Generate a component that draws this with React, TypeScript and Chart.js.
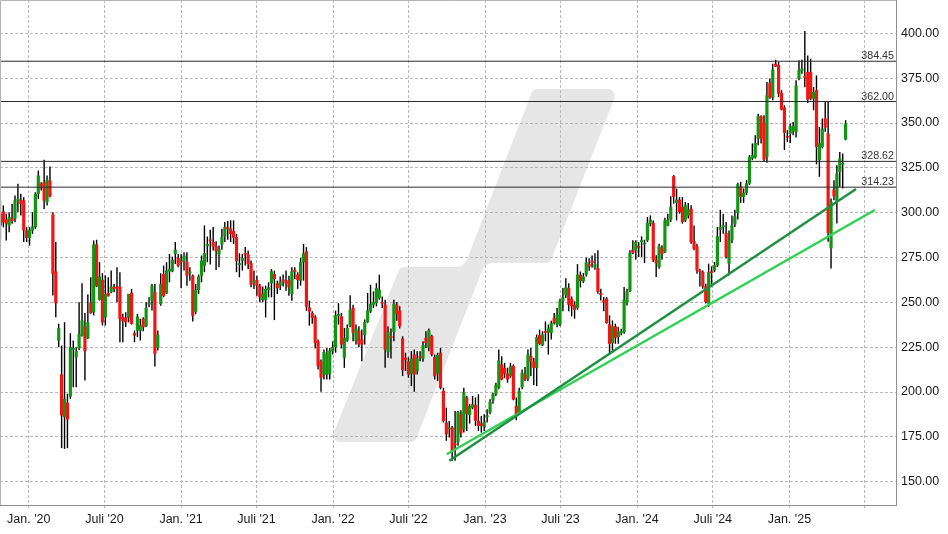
import React, { useEffect, useRef } from 'react';
import { Chart, registerables } from 'chart.js';

Chart.register(...registerables);

// ---- weekly candles (first candle week, then one per week) ----
const FIRST_WEEK = '2019-10-25';

const OPEN = [
  292.9, 300.7, 296.2, 292.9, 296.9, 296.6, 306.8, 307.2, 306.8, 290.1,
  286.0, 290.1, 291.9, 310.5, 316.1, 317.0, 305.9, 317.9, 299.0, 267.2,
  228.7, 209.8, 186.0, 194.0, 197.5, 223.6, 219.4, 224.4, 231.5, 236.5,
  230.0, 249.9, 244.5, 282.3, 251.4, 262.6, 241.7, 255.3, 255.7, 258.5,
  258.5, 258.8, 241.7, 241.4, 241.4, 255.3, 232.8, 234.3, 234.3, 240.8,
  236.7, 248.8, 251.0, 255.7, 224.6, 249.0, 265.8, 255.0, 267.3, 267.3,
  277.0, 274.8, 273.3, 272.7, 272.7, 266.2, 264.9, 244.8, 256.9, 264.9,
  270.5, 281.3, 285.0, 283.6, 281.3, 276.7, 282.3, 286.7, 292.0, 291.0,
  289.7, 286.4, 270.9, 273.3, 277.4, 276.7, 271.8, 261.2, 262.5, 259.3,
  251.3, 251.3, 256.9, 260.6, 265.8, 260.6, 259.3, 262.7, 261.7, 262.5,
  254.7, 268.1, 265.5, 262.1, 272.4, 278.4, 247.2, 244.1, 241.7, 228.3,
  217.2, 209.8, 209.5, 210.2, 222.8, 225.0, 242.4, 242.2, 219.1, 228.7,
  236.7, 246.9, 228.3, 233.9, 229.3, 231.7, 239.1, 245.0, 248.7, 249.6,
  252.4, 250.0, 248.7, 222.2, 231.1, 233.5, 248.7, 245.4, 229.8, 219.1,
  217.2, 210.2, 220.9, 211.7, 220.0, 218.7, 230.2, 225.0, 231.1, 219.4,
  210.2, 221.9, 200.6, 183.0, 179.3, 180.2, 171.3, 171.9, 187.9, 179.3,
  196.9, 187.2, 191.3, 192.8, 183.9, 182.4, 180.6, 186.1, 188.5, 195.4,
  198.7, 202.4, 215.4, 213.5, 210.2, 208.9, 214.5, 192.2, 188.0, 202.8,
  209.8, 207.6, 220.0, 216.9, 213.5, 231.7, 226.1, 233.9, 233.0, 233.0,
  241.3, 237.6, 237.6, 250.9, 253.9, 258.0, 252.0, 248.7, 246.9, 265.4,
  261.7, 265.4, 271.3, 273.1, 269.4, 269.1, 255.2, 251.0, 252.1, 237.7,
  227.3, 236.6, 230.7, 232.9, 233.5, 249.6, 256.3, 279.4, 279.0, 281.2,
  283.6, 282.3, 284.6, 293.9, 294.2, 273.4, 269.7, 280.5, 278.0, 292.9,
  296.1, 320.3, 305.4, 307.2, 303.2, 295.7, 298.5, 302.2, 284.2, 281.2,
  267.8, 266.9, 258.9, 249.3, 267.3, 267.8, 270.6, 290.5, 292.0, 288.7,
  271.6, 284.6, 293.5, 299.9, 314.4, 308.9, 311.1, 316.3, 330.2, 330.8,
  341.3, 353.8, 349.7, 331.1, 372.3, 364.2, 383.1, 382.2, 366.8, 358.6,
  342.6, 344.1, 345.4, 345.0, 374.8, 379.0, 376.0, 378.5, 378.5, 363.6,
  368.3, 329.3, 336.7, 352.5, 344.1, 280.1, 312.9, 306.1, 322.8, 326.9, 340.8,
];

const HIGH = [
  306.8, 304.0, 299.4, 300.3, 304.9, 309.6, 316.1, 310.5, 308.6, 291.9,
  291.9, 300.3, 311.4, 323.5, 317.0, 329.5, 320.7, 325.7, 300.3, 283.6,
  238.0, 225.9, 238.9, 199.0, 232.8, 228.7, 225.0, 250.1, 260.7, 244.0,
  254.4, 264.0, 284.5, 284.9, 272.4, 266.3, 265.0, 264.0, 267.8, 260.3,
  269.6, 266.8, 243.6, 244.5, 254.7, 257.5, 234.3, 243.6, 240.8, 241.7,
  250.1, 252.9, 260.3, 260.3, 234.3, 266.2, 270.5, 272.4, 277.0, 275.5,
  283.6, 277.0, 277.0, 278.0, 278.0, 269.6, 265.5, 260.3, 265.5, 276.1,
  292.9, 286.7, 290.5, 292.0, 284.1, 281.7, 291.0, 294.8, 295.3, 295.7,
  295.7, 288.2, 277.4, 277.0, 280.8, 278.9, 273.3, 267.7, 264.9, 260.3,
  258.8, 259.3, 261.2, 268.6, 267.7, 262.1, 264.4, 265.5, 267.7, 264.9,
  269.6, 269.6, 266.8, 274.8, 282.6, 280.8, 251.0, 245.0, 242.8, 229.3,
  218.1, 223.7, 224.5, 224.6, 228.3, 245.4, 249.6, 244.1, 235.7, 237.6,
  253.9, 248.7, 237.6, 236.7, 234.8, 240.4, 255.2, 259.8, 256.1, 260.7,
  265.4, 253.3, 251.5, 236.7, 235.4, 251.5, 250.2, 247.8, 231.1, 221.9,
  219.4, 222.8, 223.7, 222.8, 222.8, 228.3, 233.9, 235.4, 232.0, 220.9,
  221.9, 224.6, 202.4, 191.3, 183.9, 181.1, 189.4, 189.4, 189.8, 202.4,
  197.8, 193.2, 197.8, 196.9, 198.7, 186.7, 187.6, 190.4, 195.9, 199.6,
  205.2, 223.7, 220.0, 216.3, 213.5, 216.3, 215.4, 196.9, 202.4, 212.6,
  213.9, 223.7, 224.6, 219.1, 232.0, 234.8, 233.9, 239.4, 237.6, 239.8,
  244.1, 246.9, 252.0, 258.0, 263.5, 260.7, 253.3, 250.6, 271.3, 267.2,
  266.3, 275.0, 274.6, 276.1, 277.4, 279.0, 257.6, 253.0, 253.0, 242.7,
  239.9, 238.1, 236.2, 235.3, 258.5, 257.6, 279.0, 284.6, 284.6, 283.6,
  286.8, 284.9, 297.6, 298.5, 295.7, 276.2, 282.7, 281.8, 297.2, 299.4,
  309.1, 321.0, 313.4, 308.7, 308.7, 305.9, 305.4, 304.1, 292.9, 282.7,
  268.8, 267.8, 260.4, 271.6, 270.1, 272.5, 292.0, 301.7, 299.4, 294.8,
  290.1, 298.5, 301.7, 316.7, 317.2, 313.5, 318.2, 332.1, 338.6, 343.2,
  355.2, 354.3, 354.3, 372.9, 374.8, 383.1, 385.3, 384.0, 368.3, 359.9,
  346.0, 349.7, 350.6, 373.8, 385.0, 385.3, 401.3, 387.7, 385.9, 370.1,
  376.6, 347.8, 352.5, 362.3, 361.8, 307.9, 318.1, 326.5, 333.9, 333.0, 351.6,
];

const LOW = [
  285.4, 291.9, 284.5, 289.1, 293.8, 294.7, 300.3, 298.4, 283.6, 283.6,
  281.7, 288.2, 291.0, 307.7, 312.4, 302.1, 304.0, 308.6, 253.8, 241.7,
  225.0, 168.7, 168.3, 168.7, 196.2, 202.7, 202.7, 223.5, 231.0, 206.4,
  229.6, 243.6, 242.7, 258.5, 251.0, 237.1, 237.1, 253.3, 255.1, 255.7,
  250.1, 227.8, 227.8, 236.2, 238.9, 237.6, 227.8, 230.6, 228.7, 233.9,
  236.2, 247.3, 245.4, 214.2, 223.1, 248.1, 252.8, 254.7, 261.2, 266.8,
  271.4, 269.6, 257.8, 267.7, 259.3, 262.1, 239.3, 243.5, 254.7, 261.2,
  266.8, 272.4, 271.1, 278.9, 268.1, 269.6, 279.3, 283.6, 284.9, 283.6,
  282.6, 266.8, 264.0, 267.7, 270.5, 268.6, 258.4, 257.5, 253.7, 250.0,
  250.0, 241.6, 252.8, 252.8, 240.1, 254.7, 256.9, 258.8, 256.5, 253.7,
  250.9, 263.0, 257.5, 259.3, 262.1, 245.3, 237.0, 238.0, 224.3, 212.6,
  200.2, 207.0, 207.0, 207.0, 220.9, 221.9, 237.6, 224.3, 213.5, 228.0,
  236.1, 228.3, 226.5, 225.0, 217.2, 226.5, 238.5, 244.1, 246.9, 247.8,
  251.5, 246.9, 213.5, 219.1, 218.7, 228.3, 239.8, 235.4, 208.9, 211.7,
  208.0, 203.3, 200.2, 209.8, 217.2, 216.9, 224.6, 222.8, 220.0, 207.0,
  206.1, 201.5, 183.0, 172.8, 174.6, 161.7, 161.7, 170.0, 174.6, 177.4,
  178.3, 182.4, 190.4, 181.1, 178.3, 177.4, 178.3, 183.0, 187.6, 193.5,
  197.8, 201.5, 206.5, 207.9, 205.2, 208.0, 195.4, 184.3, 187.5, 201.5,
  206.1, 206.1, 208.9, 203.9, 203.3, 226.1, 225.6, 228.3, 220.9, 229.3,
  237.6, 236.1, 236.7, 245.0, 252.4, 245.0, 242.2, 240.9, 245.9, 258.3,
  260.7, 264.4, 267.6, 269.4, 268.2, 254.8, 251.1, 245.0, 238.1, 221.0,
  222.3, 226.9, 226.9, 231.6, 232.5, 248.3, 255.8, 276.8, 273.8, 275.3,
  275.3, 271.9, 283.6, 292.4, 272.5, 264.1, 268.8, 273.8, 277.5, 292.4,
  294.8, 305.0, 295.7, 299.4, 293.9, 294.8, 296.7, 282.7, 279.0, 266.0,
  258.9, 257.6, 249.3, 247.4, 258.5, 266.9, 269.7, 283.6, 288.3, 274.4,
  265.0, 283.1, 292.0, 296.2, 305.5, 305.5, 309.8, 315.4, 329.3, 330.2,
  337.6, 338.6, 328.3, 327.8, 363.6, 362.7, 381.2, 364.5, 357.1, 334.9,
  339.5, 338.9, 343.2, 341.9, 373.8, 377.5, 370.0, 361.2, 362.7, 357.1,
  327.0, 320.0, 335.8, 345.1, 283.8, 268.9, 307.0, 294.0, 314.4, 313.5, 340.4,
];

const CLOSE = [
  299.4, 294.7, 293.8, 297.5, 295.3, 306.8, 307.7, 304.9, 290.1, 286.0,
  290.4, 292.3, 310.5, 320.7, 315.0, 306.8, 318.3, 309.0, 265.9, 249.5,
  235.6, 186.9, 196.2, 184.7, 225.0, 224.5, 222.8, 232.4, 239.9, 222.8,
  238.9, 244.0, 282.3, 259.0, 264.4, 238.9, 254.7, 253.4, 258.8, 257.5,
  257.9, 240.8, 239.5, 238.9, 254.7, 238.0, 231.5, 242.1, 237.1, 236.2,
  246.9, 249.5, 259.4, 221.3, 231.9, 260.3, 253.7, 267.7, 268.6, 273.7,
  279.3, 270.5, 272.4, 276.1, 264.9, 267.2, 242.5, 256.9, 264.4, 273.3,
  277.4, 282.5, 284.1, 281.2, 278.5, 279.5, 286.4, 292.0, 290.9, 288.2,
  286.0, 273.0, 271.8, 274.8, 276.7, 271.4, 259.9, 262.1, 259.3, 252.8,
  254.7, 257.5, 258.4, 267.3, 263.0, 258.0, 261.6, 261.7, 260.6, 258.4,
  267.3, 267.0, 262.5, 272.4, 277.4, 247.6, 244.9, 241.3, 227.4, 214.5,
  208.0, 222.2, 221.5, 223.1, 225.0, 242.8, 243.5, 226.5, 230.2, 235.7,
  245.9, 233.0, 235.4, 226.5, 226.5, 238.9, 245.4, 249.1, 250.0, 258.0,
  257.0, 249.3, 223.7, 233.5, 230.2, 249.1, 243.5, 236.7, 212.2, 217.8,
  209.8, 218.7, 209.8, 218.7, 219.1, 226.1, 227.4, 234.4, 220.9, 208.9,
  220.6, 202.4, 183.9, 176.5, 179.9, 167.2, 170.4, 188.9, 176.9, 199.6,
  187.9, 192.2, 193.2, 183.9, 181.1, 181.1, 183.3, 186.7, 194.6, 198.7,
  203.9, 217.6, 207.0, 210.2, 207.0, 214.5, 195.9, 187.6, 200.6, 210.7,
  207.0, 220.9, 216.9, 213.5, 230.6, 226.9, 232.0, 233.0, 235.4, 238.5,
  238.5, 243.1, 250.9, 252.8, 258.3, 248.7, 247.8, 245.9, 265.4, 262.0,
  264.4, 272.2, 270.0, 271.9, 271.3, 255.8, 254.1, 250.0, 238.5, 226.9,
  236.6, 230.3, 233.7, 234.0, 251.5, 256.1, 277.5, 277.5, 283.6, 280.5,
  284.6, 283.1, 294.2, 296.1, 273.4, 271.9, 281.2, 277.1, 295.7, 296.1,
  303.2, 308.8, 307.2, 300.4, 294.8, 304.1, 301.7, 283.6, 279.9, 267.8,
  266.9, 258.9, 250.2, 266.9, 266.4, 270.6, 286.8, 292.0, 292.9, 275.3,
  284.9, 292.9, 297.9, 315.9, 308.9, 311.1, 316.3, 331.1, 332.1, 338.9,
  353.8, 341.3, 329.6, 365.5, 364.2, 379.8, 381.6, 366.4, 357.5, 344.5,
  341.9, 348.2, 348.2, 371.0, 379.4, 380.3, 375.3, 363.1, 363.6, 367.3,
  336.7, 338.6, 346.9, 347.5, 288.8, 306.1, 309.2, 321.9, 330.2, 327.5, 349.7,
];

// ---- horizontal levels and trend lines ----
const LEVELS = [384.45, 362.0, 328.62, 314.23];
const TREND_DARK_DATES = ['2022-10-07', '2025-06-10'];
const TREND_DARK_VALUES = [161.7, 313.2];
const TREND_LIGHT_DATES = ['2022-10-01', '2025-07-25'];
const TREND_LIGHT_VALUES = [165.3, 301.5];

// ---- axes ----
const X_START = '2019-10-24';
const X_END = '2025-09-14';
const X_TICK_DATES = [
  '2020-01-01', '2020-07-01', '2021-01-01', '2021-07-01', '2022-01-01', '2022-07-01',
  '2023-01-01', '2023-07-01', '2024-01-01', '2024-07-01', '2025-01-01', '2025-07-01',
];
const X_TICK_LABELS = [
  "Jan. '20", "Juli '20", "Jan. '21", "Juli '21", "Jan. '22", "Juli '22",
  "Jan. '23", "Juli '23", "Jan. '24", "Juli '24", "Jan. '25", '',
];
const Y_MIN = 137.0;
const Y_MAX = 418.6;
const Y_TICKS = [150, 175, 200, 225, 250, 275, 300, 325, 350, 375, 400];

// ---- styles ----
const GREEN = '#129612';
const RED = '#f51414';
const TREND_DARK_COLOR = '#1f8f42';
const TREND_LIGHT_COLOR = '#2ed152';
const GRID = '#b8b8b8';
const AXIS = '#8f8f8f';
const FONT = '"Liberation Sans", Arial, Helvetica, sans-serif';
const LOGO = [[533, 89], [618, 89], [550, 263], [485, 263], [415, 442], [330, 442], [400, 267], [464, 267]];
const LOGO_R = [7, 7, 7, 12, 7, 7, 7, 12];

const dayOf = (s: string) =>
  (Date.parse(s + 'T00:00:00Z') - Date.parse('2020-01-01T00:00:00Z')) / 86400000;

const logoPlugin = {
  id: 'logo',
  beforeDraw(chart: any) {
    const { ctx, chartArea } = chart;
    const n = LOGO.length;
    const pts = LOGO.map(([x, y]) => [chartArea.left + x, chartArea.top + y]);
    ctx.save();
    ctx.fillStyle = '#e6e6e6';
    ctx.beginPath();
    const last = pts[n - 1];
    const first = pts[0];
    ctx.moveTo((last[0] + first[0]) / 2, (last[1] + first[1]) / 2);
    for (let i = 0; i < n; i++) {
      const p = pts[i];
      const q = pts[(i + 1) % n];
      ctx.arcTo(p[0], p[1], q[0], q[1], LOGO_R[i]);
    }
    ctx.closePath();
    ctx.fill();
    ctx.restore();
  },
};

const frameAndLabelsPlugin = {
  id: 'frameLabels',
  afterDatasetsDraw(chart: any) {
    const { ctx, chartArea } = chart;
    const y = chart.scales.y;
    ctx.save();
    ctx.strokeStyle = '#b4b4b4';
    ctx.lineWidth = 1;
    ctx.beginPath();
    ctx.moveTo(chartArea.left + 0.5, chartArea.bottom);
    ctx.lineTo(chartArea.left + 0.5, chartArea.top + 0.5);
    ctx.lineTo(chartArea.right, chartArea.top + 0.5);
    ctx.stroke();
    ctx.font = '10.7px ' + FONT;
    ctx.fillStyle = '#333333';
    ctx.textAlign = 'right';
    ctx.textBaseline = 'alphabetic';
    LEVELS.forEach((v) => {
      const py = y.getPixelForValue(v);
      ctx.fillText(v.toFixed(2), chartArea.right - 2, py - 2);
    });
    ctx.restore();
  },
};

export default function App() {
  const ref = useRef<HTMLCanvasElement>(null);

  useEffect(() => {
    if (!ref.current) return;
    const d0 = dayOf(FIRST_WEEK);
    const days = OPEN.map((_, i) => d0 + 7 * i);
    const xMin = dayOf(X_START);
    const xMax = dayOf(X_END);
    const wicks = days.map((d, i) => ({ x: d, y: [LOW[i], HIGH[i]] }));
    const bodies = days.map((d, i) => ({ x: d, y: [OPEN[i], CLOSE[i]] }));
    const bodyColors = OPEN.map((o, i) => (CLOSE[i] >= o ? GREEN : RED));
    const tickDays = X_TICK_DATES.map(dayOf);

    const levelSets = LEVELS.map((v) => ({
      type: 'line' as const,
      data: [{ x: xMin, y: v }, { x: xMax, y: v }],
      borderColor: '#2b2b2b',
      borderWidth: 1,
      pointRadius: 0,
      order: 1,
    }));

    const chart = new Chart(ref.current, {
      type: 'bar',
      data: {
        datasets: [
          {
            type: 'bar',
            data: wicks as any,
            backgroundColor: '#000000',
            barThickness: 1.4,
            inflateAmount: 0,
            grouped: false,
            order: 4,
          } as any,
          {
            type: 'bar',
            data: bodies as any,
            backgroundColor: bodyColors,
            barThickness: 3,
            inflateAmount: 0.1,
            minBarLength: 1.5,
            grouped: false,
            order: 3,
          } as any,
          ...levelSets,
          {
            type: 'line',
            data: TREND_DARK_DATES.map((s, i) => ({ x: dayOf(s), y: TREND_DARK_VALUES[i] })),
            borderColor: TREND_DARK_COLOR,
            borderWidth: 2.5,
            pointRadius: 0,
            order: 0,
          } as any,
          {
            type: 'line',
            data: TREND_LIGHT_DATES.map((s, i) => ({ x: dayOf(s), y: TREND_LIGHT_VALUES[i] })),
            borderColor: TREND_LIGHT_COLOR,
            borderWidth: 2.5,
            pointRadius: 0,
            order: 0,
          } as any,
        ],
      },
      options: {
        animation: false,
        responsive: false,
        devicePixelRatio: 1,
        layout: { padding: 0 },
        plugins: { legend: { display: false }, tooltip: { enabled: false } },
        scales: {
          x: {
            type: 'linear',
            min: xMin,
            max: xMax,
            offset: false,
            grid: { color: GRID, offset: false, tickLength: 3, tickColor: GRID },
            border: { display: true, color: AXIS, dash: [3, 2] },
            afterBuildTicks: (s: any) => {
              s.ticks = tickDays.map((v) => ({ value: v }));
            },
            afterFit: (s: any) => {
              s.height = 29;
              s.paddingLeft = 0;
              s.paddingRight = 0;
            },
            ticks: {
              autoSkip: false,
              maxRotation: 0,
              padding: 4,
              color: '#1a1a1a',
              font: { family: FONT, size: 12.5 },
              callback: (_v: any, i: number) => X_TICK_LABELS[i],
            },
          },
          y: {
            type: 'linear',
            position: 'right',
            min: Y_MIN,
            max: Y_MAX,
            grid: { color: GRID, drawTicks: false },
            border: { display: true, color: AXIS, dash: [3, 2] },
            afterBuildTicks: (s: any) => {
              s.ticks = Y_TICKS.map((v) => ({ value: v }));
            },
            afterFit: (s: any) => {
              s.width = 52;
              s.paddingTop = 0;
              s.paddingBottom = 0;
            },
            ticks: {
              padding: 5,
              color: '#1a1a1a',
              font: { family: FONT, size: 12.5 },
              callback: (v: any) => Number(v).toFixed(2),
            },
          },
        },
      } as any,
      plugins: [logoPlugin, frameAndLabelsPlugin],
    });
    return () => chart.destroy();
  }, []);

  return (
    <div style={{ position: 'absolute', left: 0, top: 0, width: 948, height: 534, background: '#ffffff' }}>
      <canvas ref={ref} width={948} height={534} style={{ display: 'block' }} />
    </div>
  );
}
